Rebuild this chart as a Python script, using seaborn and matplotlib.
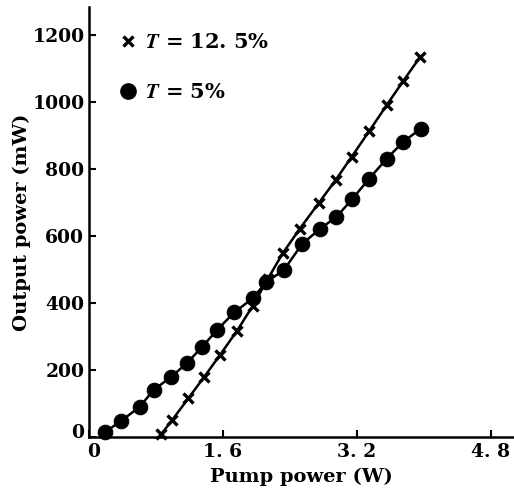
import matplotlib
matplotlib.use("Agg")
import matplotlib.pyplot as plt
import matplotlib.transforms as mtransforms
from matplotlib.lines import Line2D
import seaborn as sns
import pandas as pd

# Datos
pump_t5 = [0.20, 0.39, 0.61, 0.78, 0.99, 1.18, 1.36, 1.54, 1.74, 1.96,
           2.12, 2.33, 2.55, 2.76, 2.96, 3.15, 3.35, 3.56, 3.76, 3.97]
out_t5 = [15, 48, 90, 141, 180, 222, 270, 321, 372, 414,
          462, 498, 576, 621, 657, 711, 771, 831, 882, 921]

pump_t125 = [0.87, 1.00, 1.19, 1.38, 1.57, 1.77, 1.96, 2.14, 2.32, 2.52,
             2.75, 2.95, 3.14, 3.35, 3.56, 3.76, 3.96]
out_t125 = [9, 51, 115, 179, 245, 316, 391, 472, 549, 621,
            699, 767, 836, 913, 991, 1064, 1135]

x_ticks = [0, 1.6, 3.2, 4.8]
x_tick_labels = ["0", "1. 6", "3. 2", "4. 8"]
y_ticks = [0, 200, 400, 600, 800, 1000, 1200]
label_t125 = "$T$ = 12. 5%"
label_t5 = "$T$ = 5%"

sns.set_style("ticks")
plt.rcParams["font.family"] = ["DejaVu Serif"]
plt.rcParams["font.weight"] = "bold"
plt.rcParams["mathtext.fontset"] = "stix"
for key in ["text.color", "axes.labelcolor", "xtick.color", "ytick.color", "axes.edgecolor"]:
    plt.rcParams[key] = "black"

df5 = pd.DataFrame({"pump": pump_t5, "out": out_t5})
df125 = pd.DataFrame({"pump": pump_t125, "out": out_t125})

fig = plt.figure(figsize=(5.14, 4.92), dpi=100)
ax = fig.add_axes([88.5 / 514, 1 - 437 / 492, (514 - 88.5) / 514, (437 - 7) / 492])

sns.lineplot(data=df5, x="pump", y="out", ax=ax, color="black", linewidth=1.8,
             marker="o", markersize=10.5, markeredgecolor="black", sort=False,
             clip_on=False)
sns.lineplot(data=df125, x="pump", y="out", ax=ax, color="black", linewidth=1.8,
             marker="x", markersize=7, markeredgewidth=2.4, markeredgecolor="black",
             sort=False, clip_on=False)

ax.set_xlim(0, 5.08)
ax.set_ylim(0, 1284)
ax.set_xticks(x_ticks)
ax.set_xticklabels(x_tick_labels)
ax.set_yticks(y_ticks)
ax.tick_params(direction="in", length=5, width=1.5, labelsize=13.5)
ax.tick_params(axis="x", pad=4)
ax.tick_params(axis="y", pad=3)
for lab in ax.get_xticklabels() + ax.get_yticklabels():
    lab.set_fontweight("bold")

# separar los dos "0" del origen
xl0 = ax.get_xticklabels()[0]
xl0.set_transform(xl0.get_transform() + mtransforms.ScaledTranslation(4 / 72, 0, fig.dpi_scale_trans))
yl0 = ax.get_yticklabels()[0]
yl0.set_transform(yl0.get_transform() + mtransforms.ScaledTranslation(0, 4 / 72, fig.dpi_scale_trans))

sns.despine(ax=ax)
for side in ["left", "bottom"]:
    ax.spines[side].set_linewidth(1.8)

ax.set_xlabel("Pump power (W)", fontsize=14, fontweight="bold", labelpad=5)
ax.set_ylabel("Output power (mW)", fontsize=14, fontweight="bold", labelpad=1)

handles = [
    Line2D([], [], color="black", linestyle="none", marker="x",
           markersize=7, markeredgewidth=2.4),
    Line2D([], [], color="black", linestyle="none", marker="o", markersize=11),
]
ax.legend(handles, [label_t125, label_t5], loc="upper left",
          bbox_to_anchor=(0.025, 0.985), frameon=False, fontsize=15,
          handlelength=1.0, handletextpad=0.3, labelspacing=1.45)

fig.savefig("out.png", dpi=100)
